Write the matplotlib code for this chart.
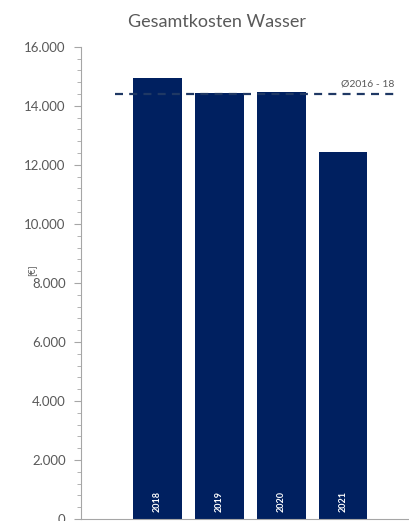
import matplotlib.pyplot as plt
from matplotlib.ticker import MultipleLocator, FuncFormatter

years = ['2018', '2019', '2020', '2021']
kosten = [14950, 14450, 14460, 12450]
mittel_label = 'Ø2016 - 18'
mittel_wert = 14400

navy = '#002060'
grau = '#595959'

plt.rcParams['font.family'] = ['Lato', 'DejaVu Sans']

fig = plt.figure(figsize=(4.09, 5.21), dpi=100)
ax = fig.add_axes([0.198, 0.004, 0.802, 0.906])

x = list(range(len(years)))
ax.bar(x, kosten, width=0.79, color=navy, zorder=2)

for xi, yr in zip(x, years):
    ax.text(xi, 230, yr, rotation=90, ha='center', va='bottom',
            color='white', fontsize=6.5, fontweight='bold', zorder=3)

# Durchschnittslinie
ax.plot([-0.69, 3.84], [mittel_wert, mittel_wert], color='#1F3864',
        lw=1.6, dashes=(3.6, 2.8), zorder=4)
ax.text(3.84, mittel_wert + 180, mittel_label, ha='right', va='bottom',
        fontsize=7.5, color=grau)

ax.set_xlim(-1.24, 4.07)
ax.set_ylim(0, 16000)
ax.yaxis.set_major_locator(MultipleLocator(2000))
ax.yaxis.set_minor_locator(MultipleLocator(400))
ax.yaxis.set_major_formatter(FuncFormatter(lambda v, p: f'{int(v):,}'.replace(',', '.')))
ax.tick_params(axis='y', which='major', length=5, color='#A6A6A6',
               labelcolor=grau, labelsize=9.5, pad=6)
ax.tick_params(axis='y', which='minor', length=3, color='#A6A6A6')
ax.set_xticks([])

for s in ['top', 'right']:
    ax.spines[s].set_visible(False)
ax.spines['left'].set_color('#A6A6A6')
ax.spines['bottom'].set_color('#A6A6A6')

ax.set_ylabel('[€]', fontsize=7, color=grau)
ax.yaxis.set_label_coords(-0.137, 0.527)
fig.text(0.53, 0.958, 'Gesamtkosten Wasser', ha='center', va='center',
         fontsize=13, color=grau)

fig.savefig('out.png', dpi=100)
